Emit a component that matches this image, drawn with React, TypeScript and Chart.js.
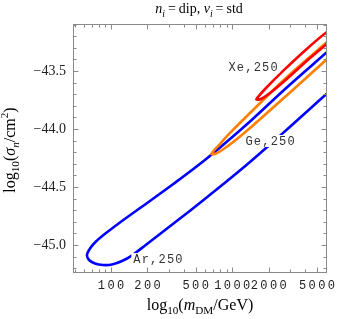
import React, { useEffect, useRef } from 'react';
import { Chart, registerables } from 'chart.js';

Chart.register(...registerables);

// ---- data (x = log10(m/GeV), y = log10(sigma/cm^2)) ----
const arX = [3.89, 3.783, 3.45, 3.147, 2.79, 2.514, 2.24, 2.074, 1.959, 1.876, 1.827, 1.802, 1.819, 1.868, 1.934, 2.008, 2.091, 2.171, 2.281, 2.404, 2.569, 2.735, 2.94, 3.147, 3.312, 3.477, 3.642, 3.783, 3.89];
const arY = [-43.237, -43.336, -43.642, -43.935, -44.254, -44.474, -44.681, -44.806, -44.897, -44.97, -45.03, -45.086, -45.129, -45.159, -45.172, -45.168, -45.138, -45.091, -45.004, -44.905, -44.772, -44.635, -44.463, -44.284, -44.134, -43.98, -43.825, -43.693, -43.592];

const geX = [3.89, 3.779, 3.45, 3.147, 2.982, 2.883, 2.842, 2.829, 2.867, 2.917, 3.024, 3.171, 3.477, 3.783, 3.89];
const geY = [-43.155, -43.253, -43.554, -43.862, -44.034, -44.147, -44.194, -44.216, -44.211, -44.181, -44.099, -43.97, -43.685, -43.397, -43.297];

const xeX = [3.89, 3.779, 3.615, 3.422, 3.271, 3.213, 3.2, 3.238, 3.312, 3.45, 3.642, 3.779, 3.89];
const xeY = [-43.095, -43.166, -43.31, -43.497, -43.655, -43.724, -43.746, -43.741, -43.69, -43.569, -43.388, -43.267, -43.172];

const labelTexts = ['Xe,250', 'Ge,250', 'Ar,250'];
const labelX = [3.172, 3.312, 2.387];
const labelY = [-43.466, -44.103, -45.121];

const xMajorMass = [100, 200, 500, 1000, 2000, 5000];
const xMinorMass = [50, 60, 70, 80, 90, 300, 400, 600, 700, 800, 900, 3000, 4000, 6000];
const yMajor = [-45.0, -44.5, -44.0, -43.5];
const yMinor = [-45.2, -45.1, -44.9, -44.8, -44.7, -44.6, -44.4, -44.3, -44.2, -44.1, -43.9, -43.8, -43.7, -43.6, -43.4, -43.3, -43.2, -43.1];

const X_MIN = 1.6865;
const X_MAX = 3.782;
const Y_MIN = -45.241;
const Y_MAX = -43.095;

type Seg = { t: string; it?: boolean; sub?: boolean; sup?: boolean; gap?: number };

const SERIF = '"Liberation Serif", "Times New Roman", serif';
const MONO = '"Liberation Mono", "Courier New", monospace';

function segFont(s: Seg, size: number) {
  const sz = s.sub || s.sup ? size * 0.7 : size;
  return `${s.it ? 'italic ' : ''}${sz}px ${SERIF}`;
}

function richWidth(ctx: CanvasRenderingContext2D, segs: Seg[], size: number) {
  let w = 0;
  for (const s of segs) {
    ctx.font = segFont(s, size);
    w += ctx.measureText(s.t).width + (s.gap || 0);
  }
  return w;
}

function drawRich(ctx: CanvasRenderingContext2D, segs: Seg[], cx: number, baseY: number, size: number, rotate: boolean) {
  ctx.save();
  ctx.translate(cx, baseY);
  if (rotate) ctx.rotate(-Math.PI / 2);
  const w = richWidth(ctx, segs, size);
  let x = -w / 2;
  ctx.textBaseline = 'alphabetic';
  ctx.textAlign = 'left';
  ctx.fillStyle = '#000';
  for (const s of segs) {
    ctx.font = segFont(s, size);
    const dy = s.sub ? size * 0.28 : s.sup ? -size * 0.42 : 0;
    ctx.fillText(s.t, x, dy);
    x += ctx.measureText(s.t).width + (s.gap || 0);
  }
  ctx.restore();
}

const titleSegs: Seg[] = [
  { t: 'n', it: true },
  { t: 'i', it: true, sub: true, gap: 3 },
  { t: '=', gap: 3 },
  { t: 'dip, ' },
  { t: 'ν', it: true },
  { t: 'i', it: true, sub: true, gap: 3 },
  { t: '=', gap: 3 },
  { t: 'std' },
];
const xTitleSegs: Seg[] = [
  { t: 'log' },
  { t: '10', sub: true },
  { t: '(' },
  { t: 'm', it: true },
  { t: 'DM', sub: true },
  { t: '/GeV)' },
];
const yTitleSegs: Seg[] = [
  { t: 'log' },
  { t: '10', sub: true },
  { t: '(' },
  { t: 'σ', it: true },
  { t: 'n', it: true, sub: true },
  { t: '/cm' },
  { t: '2', sup: true },
  { t: ')' },
];

const framePlugin = {
  id: 'mmaFrame',
  afterDatasetsDraw(chart: any) {
    const { ctx, chartArea: a, scales } = chart;
    const xs = scales.x;
    const ys = scales.y;
    ctx.save();
    ctx.strokeStyle = '#8a8a8a';
    ctx.lineWidth = 1;
    ctx.strokeRect(a.left + 0.5, a.top + 0.5, a.right - a.left - 1, a.bottom - a.top - 1);

    const xTick = (m: number, len: number) => {
      const px = Math.round(xs.getPixelForValue(Math.log10(m))) + 0.5;
      if (px < a.left || px > a.right) return;
      ctx.beginPath();
      ctx.moveTo(px, a.bottom - 0.5);
      ctx.lineTo(px, a.bottom - 0.5 - len);
      ctx.moveTo(px, a.top + 0.5);
      ctx.lineTo(px, a.top + 0.5 + len);
      ctx.stroke();
    };
    const yTick = (v: number, len: number) => {
      const py = Math.round(ys.getPixelForValue(v)) + 0.5;
      if (py < a.top || py > a.bottom) return;
      ctx.beginPath();
      ctx.moveTo(a.left + 0.5, py);
      ctx.lineTo(a.left + 0.5 + len, py);
      ctx.moveTo(a.right - 0.5, py);
      ctx.lineTo(a.right - 0.5 - len, py);
      ctx.stroke();
    };
    xMajorMass.forEach((m) => xTick(m, 5));
    xMinorMass.forEach((m) => xTick(m, 3));
    yMajor.forEach((v) => yTick(v, 5));
    yMinor.forEach((v) => yTick(v, 3));

    // x tick labels
    const ls = 2.4;
    ctx.font = `12px ${MONO}`;
    (ctx as any).letterSpacing = `${ls}px`;
    ctx.fillStyle = '#222';
    ctx.textAlign = 'center';
    ctx.textBaseline = 'alphabetic';
    xMajorMass.forEach((m) => {
      const px = xs.getPixelForValue(Math.log10(m));
      ctx.fillText(String(m), px + ls / 2, 289);
    });
    (ctx as any).letterSpacing = '0px';

    // y tick labels
    ctx.font = `14px ${SERIF}`;
    ctx.textAlign = 'right';
    ctx.textBaseline = 'middle';
    yMajor.forEach((v) => {
      const py = ys.getPixelForValue(v);
      ctx.fillText('\u2212' + Math.abs(v).toFixed(1), 66, py);
    });

    // contour labels with white backing
    const lls = 1.2;
    ctx.font = `12px ${MONO}`;
    (ctx as any).letterSpacing = `${lls}px`;
    ctx.textAlign = 'left';
    ctx.textBaseline = 'middle';
    labelTexts.forEach((t, i) => {
      const cx = xs.getPixelForValue(labelX[i]);
      const cy = ys.getPixelForValue(labelY[i]);
      const w = ctx.measureText(t).width - lls;
      ctx.fillStyle = '#fff';
      ctx.fillRect(cx - w / 2 - 2, cy - 6, w + 4, 12);
      ctx.fillStyle = '#333';
      ctx.fillText(t, cx - w / 2, cy + 0.5);
    });
    (ctx as any).letterSpacing = '0px';

    // titles
    drawRich(ctx, titleSegs, 199, 13, 14, false);
    drawRich(ctx, xTitleSegs, 200, 310, 16, false);
    drawRich(ctx, yTitleSegs, 15, 150, 16, true);
    ctx.restore();
  },
};

const pts = (xs: number[], ys: number[]) => xs.map((x, i) => ({ x, y: ys[i] }));

export default function App() {
  const ref = useRef<HTMLCanvasElement | null>(null);
  useEffect(() => {
    document.body.style.margin = '0';
    const canvas = ref.current;
    if (!canvas) return;
    const common = { showLine: true, pointRadius: 0, borderWidth: 2.6, tension: 0.3, fill: false, clip: 0 };
    const chart = new Chart(canvas, {
      type: 'scatter',
      data: {
        datasets: [
          { ...common, label: 'Xe', data: pts(xeX, xeY), borderColor: 'rgb(255,0,0)', order: 0 },
          { ...common, label: 'Ge', data: pts(geX, geY), borderColor: 'rgb(255,128,0)', order: 1 },
          { ...common, label: 'Ar', data: pts(arX, arY), borderColor: 'rgb(0,0,255)', order: 2 },
        ] as any,
      },
      options: {
        animation: false,
        responsive: false,
        devicePixelRatio: 1,
        events: [],
        layout: { padding: { left: 73, right: 19, top: 24, bottom: 46 } },
        plugins: { legend: { display: false }, tooltip: { enabled: false }, title: { display: false } },
        scales: {
          x: { type: 'linear', min: X_MIN, max: X_MAX, display: false },
          y: { type: 'linear', min: Y_MIN, max: Y_MAX, display: false },
        },
      } as any,
      plugins: [framePlugin],
    });
    return () => chart.destroy();
  }, []);
  return (
    <div style={{ width: 346, height: 319, background: '#fff' }}>
      <canvas ref={ref} width={346} height={319} style={{ display: 'block', width: 346, height: 319 }} />
    </div>
  );
}
